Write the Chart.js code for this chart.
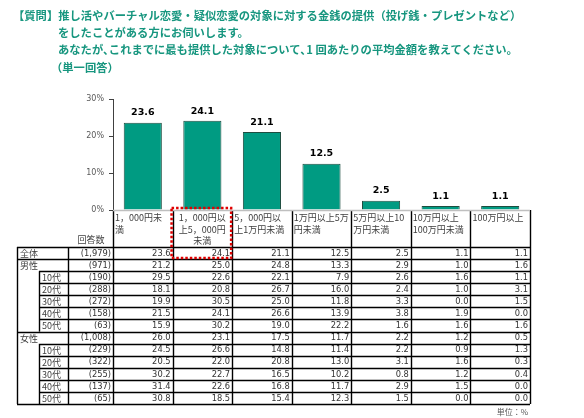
<!DOCTYPE html>
<html lang="ja">
<head>
<meta charset="UTF-8">
<title>推し活 提供金額</title>
<script src="https://cdn.jsdelivr.net/npm/chart.js"></script>
<style>
  body { margin: 0; background: #fff; }
  #wrap { position: relative; width: 584px; height: 418px; }
  #chart { position: absolute; left: 0; top: 0; }
  .q { position: absolute; font: bold 11.3px "Noto Sans CJK JP", sans-serif; color: #17967f; white-space: nowrap; }
</style>
</head>
<body>
<div id="wrap">
  <canvas id="chart" width="584" height="418"></canvas>
  <div class="q" style="left:13px; top:7px;">【質問】推し活やバーチャル恋愛・疑似恋愛の対象に対する金銭の提供（投げ銭・プレゼントなど）</div>
  <div class="q" style="left:58px; top:24px;">をしたことがある方にお伺いします。</div>
  <div class="q" style="left:58px; top:41px;">あなたが､これまでに最も提供した対象について､1 回あたりの平均金額を教えてください。</div>
  <div class="q" style="left:51px; top:59px;">（単一回答）</div>
</div>
<script>
// 選択肢（表の見出しの改行どおり）
const categories = [
  ['1，000円未', '満'],
  ['1，000円以', '上5，000円', '未満'],
  ['5，000円以', '上1万円未満'],
  ['1万円以上5万', '円未満'],
  ['5万円以上10', '万円未満'],
  ['10万円以上', '100万円未満'],
  ['100万円以上']
];
// 全体の値（グラフ）
const overall = [23.6, 24.1, 21.1, 12.5, 2.5, 1.1, 1.1];
const yTicks = [0, 10, 20, 30];

// 表
const rowLabels = ['全体', '男性', '10代', '20代', '30代', '40代', '50代', '女性', '10代', '20代', '30代', '40代', '50代'];
const rowIndent = [false, false, true, true, true, true, true, false, true, true, true, true, true];
const rowCounts = ['(1,979)', '(971)', '(190)', '(288)', '(272)', '(158)', '(63)', '(1,008)', '(229)', '(322)', '(255)', '(137)', '(65)'];
const tableValues = [
  overall,
  [21.2, 25.0, 24.8, 13.3, 2.9, 1.0, 1.6],
  [29.5, 22.6, 22.1, 7.9, 2.6, 1.6, 1.1],
  [18.1, 20.8, 26.7, 16.0, 2.4, 1.0, 3.1],
  [19.9, 30.5, 25.0, 11.8, 3.3, 0.0, 1.5],
  [21.5, 24.1, 26.6, 13.9, 3.8, 1.9, 0.0],
  [15.9, 30.2, 19.0, 22.2, 1.6, 1.6, 1.6],
  [26.0, 23.1, 17.5, 11.7, 2.2, 1.2, 0.5],
  [24.5, 26.6, 14.8, 11.4, 2.2, 0.9, 1.3],
  [20.5, 22.0, 20.8, 13.0, 3.1, 1.6, 0.3],
  [30.2, 22.7, 16.5, 10.2, 0.8, 1.2, 0.4],
  [31.4, 22.6, 16.8, 11.7, 2.9, 1.5, 0.0],
  [30.8, 18.5, 15.4, 12.3, 1.5, 0.0, 0.0]
];
const highlightCol = 1;

// バーの上の数値
const valueLabels = {
  id: 'valueLabels',
  afterDatasetsDraw(chart) {
    const ctx = chart.ctx;
    ctx.save();
    ctx.font = 'bold 9.5px "DejaVu Sans", sans-serif';
    ctx.fillStyle = '#000';
    ctx.textAlign = 'center';
    ctx.textBaseline = 'bottom';
    chart.getDatasetMeta(0).data.forEach((bar, i) => {
      ctx.fillText(overall[i].toFixed(1), bar.x, bar.y - 5);
    });
    ctx.restore();
  }
};

// グラフ下の表
const surveyTable = {
  id: 'surveyTable',
  afterDraw(chart) {
    const ctx = chart.ctx;
    const xs = chart.scales.x;
    const area = chart.chartArea;
    const colW = xs.getPixelForValue(1) - xs.getPixelForValue(0);
    const colLeft = i => xs.getPixelForValue(i) - colW / 2;
    const headTop = area.bottom;
    const headBottom = 247;
    const rowH = 12.08;
    const outerLeft = 17, subLeft = 39, countLeft = 68;
    const right = area.right;
    const rowTop = r => headBottom + r * rowH;
    const tableBottom = rowTop(rowLabels.length);
    const px = v => Math.round(v) + 0.5;

    ctx.save();
    // 見出し
    ctx.fillStyle = '#404040';
    ctx.font = '9px "Noto Sans CJK JP", sans-serif';
    ctx.textBaseline = 'middle';
    categories.forEach((lines, i) => {
      lines.forEach((t, k) => {
        const y = headTop + 7.5 + k * 11.7;
        if (i === highlightCol) {
          ctx.textAlign = 'center';
          ctx.fillText(t, xs.getPixelForValue(i), y);
        } else {
          ctx.textAlign = 'left';
          ctx.fillText(t, colLeft(i) + 2, y);
        }
      });
    });
    ctx.textAlign = 'center';
    ctx.fillText('回答数', 91, 240);

    // 行
    rowLabels.forEach((lab, r) => {
      const yc = rowTop(r) + rowH / 2 + 0.5;
      ctx.font = '9px "Noto Sans CJK JP", sans-serif';
      ctx.textAlign = 'left';
      ctx.fillStyle = '#404040';
      ctx.fillText(lab, (rowIndent[r] ? subLeft : outerLeft) + 3, yc);
      ctx.font = '8.3px "DejaVu Sans", sans-serif';
      ctx.textAlign = 'right';
      ctx.fillStyle = '#333';
      ctx.fillText(rowCounts[r], area.left - 2, yc);
      tableValues[r].forEach((v, c) => {
        ctx.fillText(v.toFixed(1), colLeft(c) + colW - 2, yc);
      });
    });

    // 罫線
    ctx.strokeStyle = '#000';
    ctx.lineWidth = 1.4;
    ctx.beginPath();
    for (let c = 0; c <= categories.length; c++) {
      const x = px(colLeft(c));
      ctx.moveTo(x, headTop);
      ctx.lineTo(x, tableBottom);
    }
    [outerLeft, countLeft].forEach(x => {
      ctx.moveTo(px(x), headBottom);
      ctx.lineTo(px(x), tableBottom);
    });
    for (let r = 0; r <= rowLabels.length; r++) {
      const y = px(rowTop(r));
      let from = outerLeft;
      if (r > 0 && r < rowLabels.length && rowIndent[r]) from = subLeft;
      ctx.moveTo(from, y);
      ctx.lineTo(right, y);
    }
    // 小区分の縦線
    let r0 = null;
    for (let r = 0; r <= rowLabels.length; r++) {
      if (r < rowLabels.length && rowIndent[r]) {
        if (r0 === null) r0 = r;
      } else if (r0 !== null) {
        ctx.moveTo(px(subLeft), rowTop(r0));
        ctx.lineTo(px(subLeft), rowTop(r));
        r0 = null;
      }
    }
    ctx.stroke();

    // 横軸の線
    ctx.strokeStyle = '#bfbfbf';
    ctx.lineWidth = 1.5;
    ctx.beginPath();
    ctx.moveTo(area.left, px(headTop));
    ctx.lineTo(right, px(headTop));
    ctx.stroke();

    // 強調枠
    ctx.strokeStyle = '#e00000';
    ctx.lineWidth = 2.5;
    ctx.setLineDash([2.5, 2]);
    ctx.strokeRect(colLeft(highlightCol) - 1, headTop - 2, colW, rowTop(1) - headTop + 1);
    ctx.setLineDash([]);

    // 単位
    ctx.font = '8px "Noto Sans CJK JP", sans-serif';
    ctx.fillStyle = '#595959';
    ctx.textAlign = 'right';
    ctx.fillText('単位：%', right - 2, tableBottom + 8);
    ctx.restore();
  }
};

new Chart(document.getElementById('chart'), {
  type: 'bar',
  data: {
    labels: categories,
    datasets: [{
      data: overall,
      backgroundColor: '#009b82',
      borderColor: '#1e4d40',
      borderWidth: 1,
      barPercentage: 0.64,
      categoryPercentage: 1
    }]
  },
  options: {
    responsive: false,
    devicePixelRatio: 1,
    animation: false,
    layout: { padding: { left: 68, right: 54, top: 99, bottom: 208 } },
    plugins: { legend: { display: false }, tooltip: { enabled: false } },
    scales: {
      x: { display: false, offset: true },
      y: {
        min: 0, max: 30,
        afterFit(scale) { scale.width = 45; },
        afterBuildTicks(scale) { scale.ticks = yTicks.map(v => ({ value: v })); },
        ticks: {
          callback: v => v + '%',
          font: { size: 8, family: '"DejaVu Sans", sans-serif' },
          color: '#595959',
          padding: 5
        },
        grid: { drawOnChartArea: false, tickLength: 4, color: '#404040' },
        border: { color: '#404040', width: 1 }
      }
    }
  },
  plugins: [valueLabels, surveyTable]
});
</script>
</body>
</html>
